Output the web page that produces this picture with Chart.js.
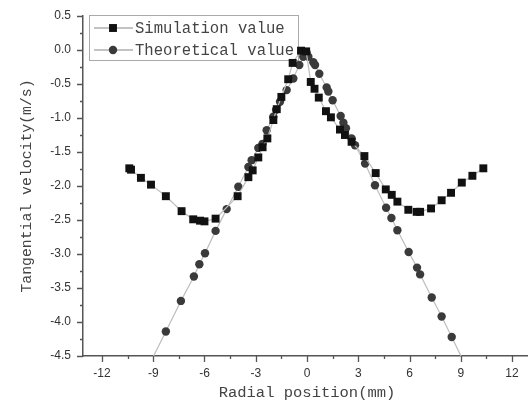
<!DOCTYPE html>
<html>
<head>
<meta charset="utf-8">
<script src="https://cdn.jsdelivr.net/npm/chart.js@4.4.0/dist/chart.umd.min.js"></script>
<style>
html, body { margin: 0; padding: 0; background: #fff; overflow: hidden; }
#wrap { width: 540px; height: 405px; }
</style>
</head>
<body>
<div id="wrap"><canvas id="velocityChart" width="540" height="405"></canvas></div>
<script>
// Simulation value (squares)
const simX = [-10.4, -10.3, -9.72, -9.13, -8.26, -7.34, -6.66, -6.26, -6.0, -5.35, -4.06, -3.43, -3.18, -2.85, -2.6, -2.32, -1.97, -1.77, -1.5, -1.1, -0.84, -0.35, -0.05,
    0.22, 0.44, 0.69, 1.11, 1.4, 1.93, 2.22, 2.61, 3.36, 4.02, 4.61, 4.96, 5.29, 5.93, 6.42, 6.62, 7.26, 7.88, 8.43, 9.06, 9.68, 10.32];
const simY = [-1.74, -1.76, -1.88, -1.98, -2.15, -2.37, -2.49, -2.51, -2.52, -2.48, -2.15, -1.87, -1.77, -1.58, -1.43, -1.30, -1.03, -0.87, -0.69, -0.43, -0.19, -0.01, -0.02,
    -0.47, -0.57, -0.70, -0.90, -0.99, -1.17, -1.25, -1.35, -1.56, -1.81, -2.05, -2.13, -2.23, -2.35, -2.38, -2.38, -2.33, -2.21, -2.10, -1.95, -1.85, -1.74];

// Theoretical value (circles); the end values run past the axes, where the line meets them
const theoX = [-9.3, -8.26, -7.38, -6.62, -6.3, -5.97, -5.35, -4.7, -4.02, -3.43, -3.24, -2.85, -2.6, -2.36, -1.97, -1.81, -1.58, -1.19, -0.8, -0.45, -0.22, -0.02,
    0.08, 0.37, 0.47, 0.72, 1.15, 1.25, 1.5, 1.97, 2.13, 2.28, 2.61, 2.81, 3.40, 3.98, 4.63, 4.94, 5.29, 5.95, 6.44, 6.62, 7.3, 7.88, 8.47, 9.3];
const theoY = [-4.66, -4.14, -3.69, -3.33, -3.15, -2.99, -2.66, -2.34, -2.01, -1.72, -1.62, -1.44, -1.38, -1.18, -0.98, -0.88, -0.76, -0.59, -0.42, -0.22, -0.10, -0.04,
    -0.10, -0.18, -0.22, -0.35, -0.55, -0.61, -0.74, -0.97, -1.07, -1.15, -1.30, -1.40, -1.67, -1.99, -2.32, -2.47, -2.65, -2.97, -3.20, -3.30, -3.64, -3.92, -4.22, -4.65];

const xTicks = [-12, -9, -6, -3, 0, 3, 6, 9, 12];
const yTicks = [0.5, 0.0, -0.5, -1.0, -1.5, -2.0, -2.5, -3.0, -3.5, -4.0, -4.5];

const seriesNames = ['Simulation value', 'Theoretical value'];

const toPoints = (xs, ys) => xs.map((x, i) => ({ x: x, y: ys[i] }));

const axisColor = '#555';
const labelFont = "'Liberation Sans', Arial, sans-serif";
const titleFont = "'Liberation Mono', monospace";

// minor ticks + legend box
const decor = {
    id: 'decor',
    beforeDatasetsDraw(chart) {
        const ctx = chart.ctx;
        const area = chart.chartArea;
        const bx = area.left + 6, by = area.top - 1, bw = 209, bh = 45;
        ctx.save();
        ctx.fillStyle = '#fff';
        ctx.strokeStyle = '#aaa';
        ctx.lineWidth = 1;
        ctx.fillRect(bx, by, bw, bh);
        ctx.strokeRect(bx + 0.5, by + 0.5, bw, bh);
        chart.data.datasets.forEach((ds, i) => {
            const y = by + 13 + i * 22;
            ctx.strokeStyle = '#888';
            ctx.lineWidth = 1.2;
            ctx.beginPath();
            ctx.moveTo(bx + 5, y);
            ctx.lineTo(bx + 44, y);
            ctx.stroke();
            ctx.fillStyle = ds.pointBackgroundColor;
            ctx.strokeStyle = ds.pointBackgroundColor;
            Chart.helpers.drawPoint(ctx, { pointStyle: ds.pointStyle, radius: ds.pointRadius, rotation: 0, borderWidth: 0 }, bx + 24, y);
            ctx.fillStyle = '#444';
            ctx.font = '15.6px ' + titleFont;
            ctx.textBaseline = 'middle';
            ctx.textAlign = 'left';
            ctx.fillText(ds.label, bx + 46, y + 1);
        });
        ctx.restore();
    },
    afterDraw(chart) {
        const ctx = chart.ctx;
        const xs = chart.scales.x, ys = chart.scales.y;
        const area = chart.chartArea;
        ctx.save();
        ctx.strokeStyle = axisColor;
        ctx.lineWidth = 1.3;
        ctx.beginPath();
        for (let i = 0; i < xTicks.length; i++) {
            const px = Math.round(xs.getPixelForValue(xTicks[i])) + 0.5;
            ctx.moveTo(px, area.bottom);
            ctx.lineTo(px, area.bottom + 6);
            if (i < xTicks.length - 1) {
                const mx = Math.round(xs.getPixelForValue((xTicks[i] + xTicks[i + 1]) / 2)) + 0.5;
                ctx.moveTo(mx, area.bottom);
                ctx.lineTo(mx, area.bottom + 3);
            }
        }
        for (let i = 0; i < yTicks.length; i++) {
            const py = Math.round(ys.getPixelForValue(yTicks[i])) + 0.5;
            ctx.moveTo(area.left, py);
            ctx.lineTo(area.left - 6, py);
            if (i < yTicks.length - 1) {
                const my = Math.round(ys.getPixelForValue((yTicks[i] + yTicks[i + 1]) / 2)) + 0.5;
                ctx.moveTo(area.left, my);
                ctx.lineTo(area.left - 3, my);
            }
        }
        ctx.stroke();
        ctx.restore();
    }
};

new Chart(document.getElementById('velocityChart').getContext('2d'), {
    type: 'line',
    data: {
        datasets: [{
            label: seriesNames[0],
            data: toPoints(simX, simY),
            borderColor: '#bdbdbd',
            borderWidth: 1.2,
            pointStyle: 'rect',
            pointRadius: 5.6,
            pointBackgroundColor: '#111',
            pointBorderWidth: 0,
            tension: 0
        }, {
            label: seriesNames[1],
            data: toPoints(theoX, theoY),
            borderColor: '#bdbdbd',
            borderWidth: 1.2,
            pointStyle: 'circle',
            pointRadius: 4.2,
            pointBackgroundColor: '#3a3a3a',
            pointBorderWidth: 0,
            tension: 0,
            clip: 0
        }]
    },
    options: {
        responsive: false,
        animation: false,
        devicePixelRatio: 1,
        layout: { padding: { top: 16, right: 9, bottom: 0, left: 0 } },
        plugins: { legend: { display: false }, tooltip: { enabled: false } },
        scales: {
            x: {
                type: 'linear',
                min: -13.11,
                max: 13.11,
                afterBuildTicks: (scale) => { scale.ticks = xTicks.map(v => ({ value: v })); },
                afterFit: (scale) => { scale.height = 49; },
                grid: { display: false },
                border: { display: true, color: axisColor, width: 1.5 },
                ticks: {
                    color: '#333',
                    font: { family: labelFont, size: 12 },
                    padding: 2,
                    maxRotation: 0,
                    autoSkip: false
                },
                title: {
                    display: true,
                    text: 'Radial position(mm)',
                    color: '#444',
                    font: { family: titleFont, size: 15.5 },
                    padding: { top: 0, bottom: 3 }
                }
            },
            y: {
                type: 'linear',
                min: -4.5,
                max: 0.5,
                afterBuildTicks: (scale) => { scale.ticks = yTicks.map(v => ({ value: v })); },
                afterFit: (scale) => { scale.width = 83; },
                grid: { display: false },
                border: { display: true, color: axisColor, width: 1.5 },
                ticks: {
                    color: '#333',
                    font: { family: labelFont, size: 12 },
                    padding: 4,
                    callback: (v) => Number(v).toFixed(1)
                },
                title: {
                    display: true,
                    text: 'Tangential velocity(m/s)',
                    color: '#444',
                    font: { family: titleFont, size: 14.8 },
                    padding: { top: 18, bottom: 0 }
                }
            }
        }
    },
    plugins: [decor]
});
</script>
</body>
</html>
